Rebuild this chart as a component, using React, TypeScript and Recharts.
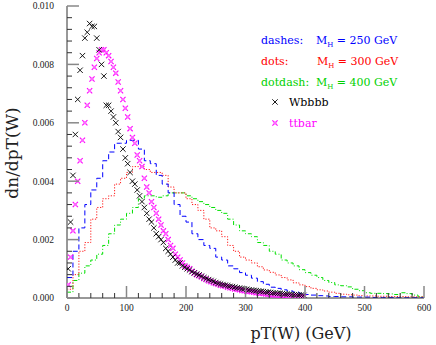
import { ComposedChart, Line, Scatter, XAxis, YAxis } from 'recharts';

// signal histograms, 10 GeV bins from 0 to 600
const BIN_EDGES = Array.from({ length: 61 }, (_, i) => i * 10);
const MH250 = [
  0.0007, 0.0016, 0.0024, 0.0032, 0.0037, 0.0041, 0.0047, 0.005, 0.0053, 0.0053,
  0.0054, 0.0054, 0.0051, 0.0047, 0.0046, 0.0042, 0.0039, 0.0036, 0.0032, 0.0028,
  0.0026, 0.0022, 0.002, 0.0018, 0.0017, 0.0014, 0.0013, 0.0011, 0.001, 0.00087,
  0.00078, 0.00068, 0.00056, 0.00047, 0.00037, 0.00033, 0.00028, 0.00024, 0.0002, 0.00016,
  0.00012, 0.0001, 0.00008, 0.00007, 0.00005, 0.00005, 0.00004, 0.00004, 0.00003, 0.00003,
  0.00003, 0.00002, 0.00002, 0.00002, 0.00002, 0.00001, 0.00001, 0.00001, 0.00001, 0.00001,
];
const MH300 = [
  0.0003, 0.0008, 0.0016, 0.0019, 0.0027, 0.0031, 0.0034, 0.0035, 0.0039, 0.0041,
  0.0043, 0.0045, 0.0045, 0.0044, 0.0043, 0.0043, 0.0042, 0.0038, 0.0036, 0.0036,
  0.0034, 0.0032, 0.003, 0.0027, 0.0024, 0.0023, 0.0021, 0.0018, 0.0016, 0.0014,
  0.0013, 0.0012, 0.00107, 0.00096, 0.00088, 0.00079, 0.0007, 0.00062, 0.00052, 0.00045,
  0.00039, 0.00033, 0.00028, 0.00024, 0.0002, 0.00016, 0.00013, 0.00011, 0.0001, 0.00008,
  0.00007, 0.00007, 0.00006, 0.00006, 0.00005, 0.00005, 0.00005, 0.00004, 0.00004, 0.00004,
];
const MH400 = [
  0.0002, 0.0006, 0.00085, 0.0011, 0.0013, 0.0015, 0.0018, 0.0022, 0.0025, 0.0027,
  0.0029, 0.0031, 0.0034, 0.0035, 0.0035, 0.00345, 0.0035, 0.0036, 0.0036, 0.0036,
  0.0035, 0.0034, 0.0033, 0.0032, 0.0031, 0.003, 0.0029, 0.0027, 0.0025, 0.0023,
  0.0022, 0.0021, 0.0019, 0.0018, 0.0016, 0.0015, 0.0013, 0.0012, 0.0011, 0.00097,
  0.00087, 0.00078, 0.0007, 0.0006, 0.00053, 0.00045, 0.00042, 0.00038, 0.0003, 0.00025,
  0.00018, 0.00016, 0.00016, 0.00015, 0.00014, 0.00012, 0.00018, 0.00015, 0.0001, 0.00004,
];

// background samples, one point every 4 GeV
const PT_POINTS = Array.from({ length: 100 }, (_, i) => 2 + 4 * i);
const WBBBB = [
  0.001, 0.0026, 0.0042, 0.0056, 0.0068, 0.0078, 0.0083, 0.0089, 0.0091, 0.0094,
  0.0093, 0.0093, 0.0089, 0.0085, 0.008, 0.0076, 0.0066, 0.0066, 0.0064, 0.0062,
  0.006, 0.0057, 0.0055, 0.0051, 0.0048, 0.0046, 0.0043, 0.004, 0.0039, 0.0037,
  0.0035, 0.0033, 0.0031, 0.0029, 0.0027, 0.0026, 0.0024, 0.0022, 0.0021, 0.002,
  0.0019, 0.0017, 0.0016, 0.0015, 0.0014, 0.0013, 0.0012, 0.0012, 0.0011, 0.00105,
  0.001, 0.00096, 0.0009, 0.00086, 0.00082, 0.00079, 0.00075, 0.0007, 0.00067, 0.00063,
  0.0006, 0.00057, 0.00053, 0.0005, 0.00048, 0.00046, 0.00044, 0.00042, 0.0004, 0.00039,
  0.00037, 0.00035, 0.00034, 0.00032, 0.00031, 0.0003, 0.00028, 0.00027, 0.00026, 0.00025,
  0.00024, 0.00023, 0.00022, 0.00021, 0.0002, 0.00019, 0.00018, 0.00017, 0.00016, 0.00016,
  0.00015, 0.00014, 0.00013, 0.00013, 0.00012, 0.00011, 0.00011, 0.0001, 0.0001, 0.00009,
];
const TTBAR = [
  0.00045, 0.0014, 0.0023, 0.0032, 0.004, 0.0047, 0.0054, 0.006, 0.0066, 0.0071,
  0.0075, 0.0079, 0.0082, 0.0084, 0.0085, 0.0085, 0.0084, 0.0083, 0.0081, 0.0079,
  0.0077, 0.0074, 0.0071, 0.0068, 0.0065, 0.0062, 0.0058, 0.0055, 0.0053, 0.0049,
  0.0047, 0.0045, 0.0041, 0.0038, 0.0036, 0.0033, 0.0031, 0.0029, 0.0027, 0.0025,
  0.0023, 0.0022, 0.002, 0.0018, 0.0017, 0.0015, 0.0014, 0.0013, 0.0012, 0.0011,
  0.00105, 0.001, 0.00092, 0.00086, 0.0008, 0.00076, 0.00072, 0.00067, 0.00063, 0.00059,
  0.00056, 0.00052, 0.0005, 0.00047, 0.00044, 0.00042, 0.0004, 0.00037, 0.00035, 0.00033,
  0.00031, 0.0003, 0.00028, 0.00026, 0.00025, 0.00023, 0.00022, 0.00021, 0.0002, 0.00018,
  0.00017, 0.00016, 0.00015, 0.00014, 0.00013, 0.00012, 0.00011, 0.0001, 0.0001, 0.00009,
  0.00008, 0.00008, 0.00007, 0.00006, 0.00006, 0.00005, 0.00005, 0.00004, 0.00004, 0.00003,
];

const X_TICKS = Array.from({ length: 31 }, (_, i) => i * 20);
const Y_TICKS = Array.from({ length: 26 }, (_, i) => Number((i * 0.0004).toFixed(4)));

const MAJOR_LEN = 12;
const MINOR_LEN = 5;
const TICK_FONT = 'Liberation Serif';
const SERIF = 'DejaVu Serif';

function toHist(vals: number[]) {
  return BIN_EDGES.map((x, i) => ({ x, y: vals[Math.min(i, vals.length - 1)] }));
}

function toPoints(vals: number[]) {
  return PT_POINTS.map((x, i) => ({ x, y: vals[i] }));
}

const isMajorX = (v: number) => v % 100 === 0;
const isMajorY = (v: number) => Math.round(v / 0.0004) % 5 === 0;

function tickStyle(major: boolean) {
  return { stroke: major ? '#888' : '#333', strokeWidth: major ? 1.5 : 1 };
}

function BottomTick({ x, y, payload }: any) {
  const major = isMajorX(payload.value);
  return (
    <g>
      <line x1={x} x2={x} y1={y} y2={y - (major ? MAJOR_LEN : MINOR_LEN)} {...tickStyle(major)} />
      {major && (
        <text x={x} y={y + 13} textAnchor="middle" fontSize={9.5} fontFamily={TICK_FONT} fill="#222">
          {payload.value}
        </text>
      )}
    </g>
  );
}

function TopTick({ x, y, payload }: any) {
  const major = isMajorX(payload.value);
  return <line x1={x} x2={x} y1={y} y2={y + (major ? MAJOR_LEN : MINOR_LEN)} {...tickStyle(major)} />;
}

function LeftTick({ x, y, payload }: any) {
  const major = isMajorY(payload.value);
  return (
    <g>
      <line x1={x} x2={x + (major ? MAJOR_LEN : MINOR_LEN)} y1={y} y2={y} {...tickStyle(major)} />
      {major && (
        <text x={x - 13} y={y + 3.3} textAnchor="end" fontSize={9.5} fontFamily={TICK_FONT} fill="#222">
          {payload.value.toFixed(3)}
        </text>
      )}
    </g>
  );
}

function RightTick({ x, y, payload }: any) {
  const major = isMajorY(payload.value);
  return <line x1={x} x2={x - (major ? MAJOR_LEN : MINOR_LEN)} y1={y} y2={y} {...tickStyle(major)} />;
}

function CrossMark({ cx, cy }: any) {
  const r = 2.7;
  return (
    <path
      d={`M${cx - r},${cy - r}L${cx + r},${cy + r}M${cx - r},${cy + r}L${cx + r},${cy - r}`}
      stroke="#000"
      strokeWidth={0.9}
    />
  );
}

function StarMark({ cx, cy }: any) {
  const r = 2.6;
  return (
    <g>
      <path
        d={`M${cx - r},${cy - r}L${cx + r},${cy + r}M${cx - r},${cy + r}L${cx + r},${cy - r}`}
        stroke="#ff00ff"
        strokeWidth={1.1}
      />
      <rect x={cx - 1.5} y={cy - 1.5} width={3} height={3} fill="#ff66ff" />
    </g>
  );
}

function MassLabel({ x, y, color, label, mass }: any) {
  return (
    <g fill={color} fontFamily={SERIF} fontSize={11}>
      <text x={261} y={y}>{label}</text>
      <text x={x} y={y}>
        <tspan>M</tspan>
        <tspan dy={2.5} fontSize={7}>H</tspan>
        <tspan dy={-2.5}>{` = ${mass} GeV`}</tspan>
      </text>
    </g>
  );
}

export default function App() {
  return (
    <div style={{ position: 'absolute', left: 0, top: 0, width: 436, height: 345, background: '#fff' }}>
      <ComposedChart width={436} height={345} margin={{ top: 6, right: 12, bottom: 0, left: 0 }}>
        <XAxis
          dataKey="x"
          type="number"
          domain={[0, 600]}
          ticks={X_TICKS}
          interval={0}
          height={47}
          tickSize={0}
          tickMargin={0}
          tickLine={false}
          axisLine={{ stroke: '#333' }}
          tick={<BottomTick />}
          allowDataOverflow
        />
        <XAxis
          xAxisId="top"
          orientation="top"
          type="number"
          domain={[0, 600]}
          ticks={X_TICKS}
          interval={0}
          height={0}
          tickSize={0}
          tickMargin={0}
          tickLine={false}
          axisLine={{ stroke: '#333' }}
          tick={<TopTick />}
        />
        <YAxis
          dataKey="y"
          type="number"
          domain={[0, 0.01]}
          ticks={Y_TICKS}
          interval={0}
          width={67}
          tickSize={0}
          tickMargin={0}
          tickLine={false}
          axisLine={{ stroke: '#333' }}
          tick={<LeftTick />}
          allowDataOverflow
        />
        <YAxis
          yAxisId="right"
          orientation="right"
          type="number"
          domain={[0, 0.01]}
          ticks={Y_TICKS}
          interval={0}
          width={0}
          tickSize={0}
          tickMargin={0}
          tickLine={false}
          axisLine={{ stroke: '#333' }}
          tick={<RightTick />}
        />

        <Line data={toHist(MH400)} dataKey="y" type="stepAfter" stroke="#00e000" strokeWidth={1}
          strokeDasharray="4 2 1 2" dot={false} isAnimationActive={false} />
        <Line data={toHist(MH300)} dataKey="y" type="stepAfter" stroke="#ff1a1a" strokeWidth={1}
          strokeDasharray="1.2 1.6" dot={false} isAnimationActive={false} />
        <Line data={toHist(MH250)} dataKey="y" type="stepAfter" stroke="#0000ff" strokeWidth={1}
          strokeDasharray="5 3" dot={false} isAnimationActive={false} />
        <Scatter data={toPoints(TTBAR)} shape={<StarMark />} isAnimationActive={false} />
        <Scatter data={toPoints(WBBBB)} shape={<CrossMark />} isAnimationActive={false} />

        <MassLabel y={44} x={316} color="#0000ff" label="dashes:" mass={250} />
        <MassLabel y={65} x={317} color="#ff0000" label="dots:" mass={300} />
        <MassLabel y={86} x={316} color="#00d000" label="dotdash:" mass={400} />
        <CrossMark cx={275} cy={102} />
        <text x={289} y={106} fontFamily={SERIF} fontSize={11} fill="#000">Wbbbb</text>
        <StarMark cx={275} cy={123} />
        <text x={289} y={127} fontFamily={SERIF} fontSize={11} fill="#ff00ff">ttbar</text>

        <text x={301} y={339} textAnchor="middle" fontFamily={SERIF} fontSize={16} fill="#222">pT(W) (GeV)</text>
        <text transform="translate(18,153) rotate(-90)" textAnchor="middle" fontFamily={SERIF} fontSize={17} fill="#222">
          dn/dpT(W)
        </text>
      </ComposedChart>
    </div>
  );
}
